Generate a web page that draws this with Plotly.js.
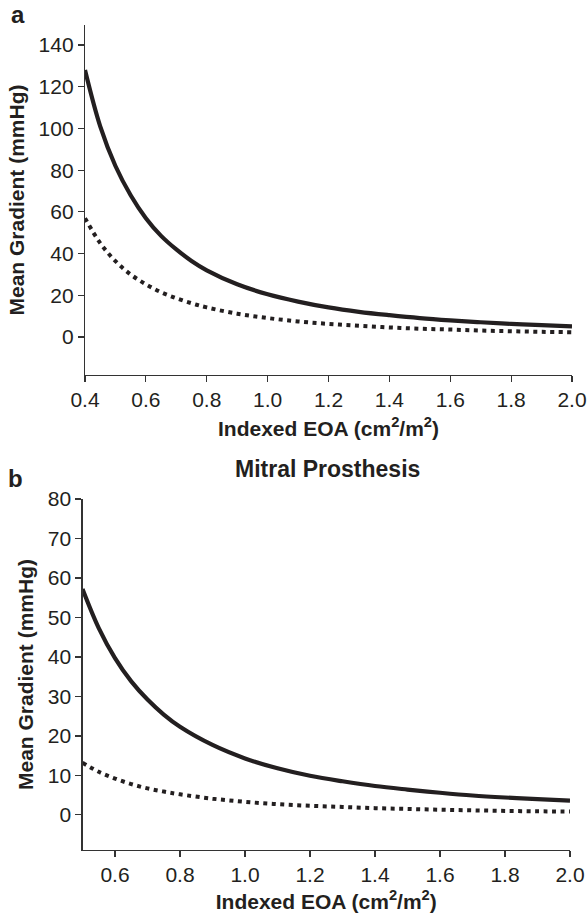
<!DOCTYPE html>
<html>
<head>
<meta charset="utf-8">
<script src="https://cdn.plot.ly/plotly-3.0.1.min.js"></script>
<style>html,body{margin:0;padding:0;background:#fff;}#chart{width:588px;height:914px;}</style>
</head>
<body>
<div id="chart"></div>
<script>
// Panel a (aortic prosthesis)
const eoaA = [0.40,0.45,0.50,0.55,0.60,0.65,0.70,0.75,0.80,0.90,1.00,1.10,1.20,1.30,1.40,1.50,1.60,1.70,1.80,1.90,2.00];
const gradA_solid = [128,101,82,68,57,48.5,42,36.5,32,25.3,20.5,17,14.2,12.1,10.5,9.1,8,7.1,6.3,5.7,5.1];
const gradA_dotted = [57,45,36.4,30,25.3,21.5,18.6,16.2,14.2,11.2,9.1,7.5,6.3,5.4,4.6,4.0,3.6,3.1,2.8,2.5,2.3];
// Panel b (mitral prosthesis)
const eoaB = [0.50,0.55,0.60,0.65,0.70,0.75,0.80,0.90,1.00,1.10,1.20,1.30,1.40,1.50,1.60,1.70,1.80,1.90,2.00];
const gradB_solid = [57.2,47.3,39.7,33.8,29.2,25.4,22.3,17.7,14.3,11.8,9.9,8.5,7.3,6.4,5.6,4.9,4.4,4.0,3.6];
const gradB_dotted = [13.2,10.9,9.2,7.8,6.7,5.9,5.2,4.1,3.3,2.7,2.3,2.0,1.7,1.5,1.3,1.15,1.0,0.9,0.85];
const xTitle = 'Indexed EOA (cm<sup>2</sup>/m<sup>2</sup>)';
const yTitle = 'Mean Gradient (mmHg)';
const panelTitleB = 'Mitral Prosthesis';

const W = 588, H = 914;
const FONT = '"Liberation Sans", Arial, Helvetica, sans-serif';
const INK = '#231f20';

const solid = {color: INK, width: 4.2, shape: 'spline'};
const dotted = {color: INK, width: 4, dash: '4px,4.5px', shape: 'spline'};

const traces = [
  {x: eoaA, y: gradA_solid, mode: 'lines', line: solid, xaxis: 'x', yaxis: 'y', showlegend: false},
  {x: eoaA, y: gradA_dotted, mode: 'lines', line: dotted, xaxis: 'x', yaxis: 'y', showlegend: false},
  {x: eoaB, y: gradB_solid, mode: 'lines', line: solid, xaxis: 'x2', yaxis: 'y2', showlegend: false},
  {x: eoaB, y: gradB_dotted, mode: 'lines', line: dotted, xaxis: 'x2', yaxis: 'y2', showlegend: false}
];

function px(x){return x/W;}
function py(y){return 1 - y/H;}

const axBase = {
  showline: true, linecolor: '#333', linewidth: 1.2,
  ticks: 'outside', ticklen: 6, tickcolor: '#333', tickwidth: 1.2,
  showgrid: false, zeroline: false, fixedrange: true,
  tickfont: {family: FONT, size: 21, color: INK}
};
const titleFont = {family: FONT, size: 21, color: INK, weight: 'bold'};

const layout = {
  width: W, height: H,
  margin: {l: 0, r: 0, t: 0, b: 0},
  paper_bgcolor: '#fff', plot_bgcolor: '#fff',
  font: {family: FONT, color: INK},
  xaxis: Object.assign({}, axBase, {
    domain: [px(85), px(572)], anchor: 'y', range: [0.4, 2.0],
    tickmode: 'linear', tick0: 0.4, dtick: 0.2, tickformat: '.1f',
    title: {text: xTitle, font: titleFont, standoff: 10}
  }),
  yaxis: Object.assign({}, axBase, {
    domain: [py(375), py(25)], anchor: 'x', range: [-18.2, 149.6],
    tickmode: 'linear', tick0: 0, dtick: 20,
    title: {text: yTitle, font: titleFont, standoff: 8}
  }),
  xaxis2: Object.assign({}, axBase, {
    domain: [px(82.5), px(570)], anchor: 'y2', range: [0.5, 2.0],
    tickmode: 'linear', tick0: 0.6, dtick: 0.2, tickformat: '.1f',
    title: {text: xTitle, font: titleFont, standoff: 8}
  }),
  yaxis2: Object.assign({}, axBase, {
    domain: [py(850), py(499)], anchor: 'x2', range: [-8.9, 80],
    tickmode: 'linear', tick0: 0, dtick: 10,
    title: {text: yTitle, font: titleFont, standoff: 8}
  }),
  annotations: [
    {text: 'a', xref: 'paper', yref: 'paper', x: px(18), y: py(15), xanchor: 'center', yanchor: 'middle', showarrow: false,
     font: {family: FONT, size: 24, color: INK, weight: 'bold'}},
    {text: 'b', xref: 'paper', yref: 'paper', x: px(15.5), y: py(478), xanchor: 'center', yanchor: 'middle', showarrow: false,
     font: {family: FONT, size: 24, color: INK, weight: 'bold'}},
    {text: panelTitleB, xref: 'paper', yref: 'paper', x: px(327), y: py(469), xanchor: 'center', yanchor: 'middle', showarrow: false,
     font: {family: FONT, size: 23, color: INK, weight: 'bold'}}
  ]
};

Plotly.newPlot('chart', traces, layout, {staticPlot: true, displayModeBar: false});
</script>
</body>
</html>
